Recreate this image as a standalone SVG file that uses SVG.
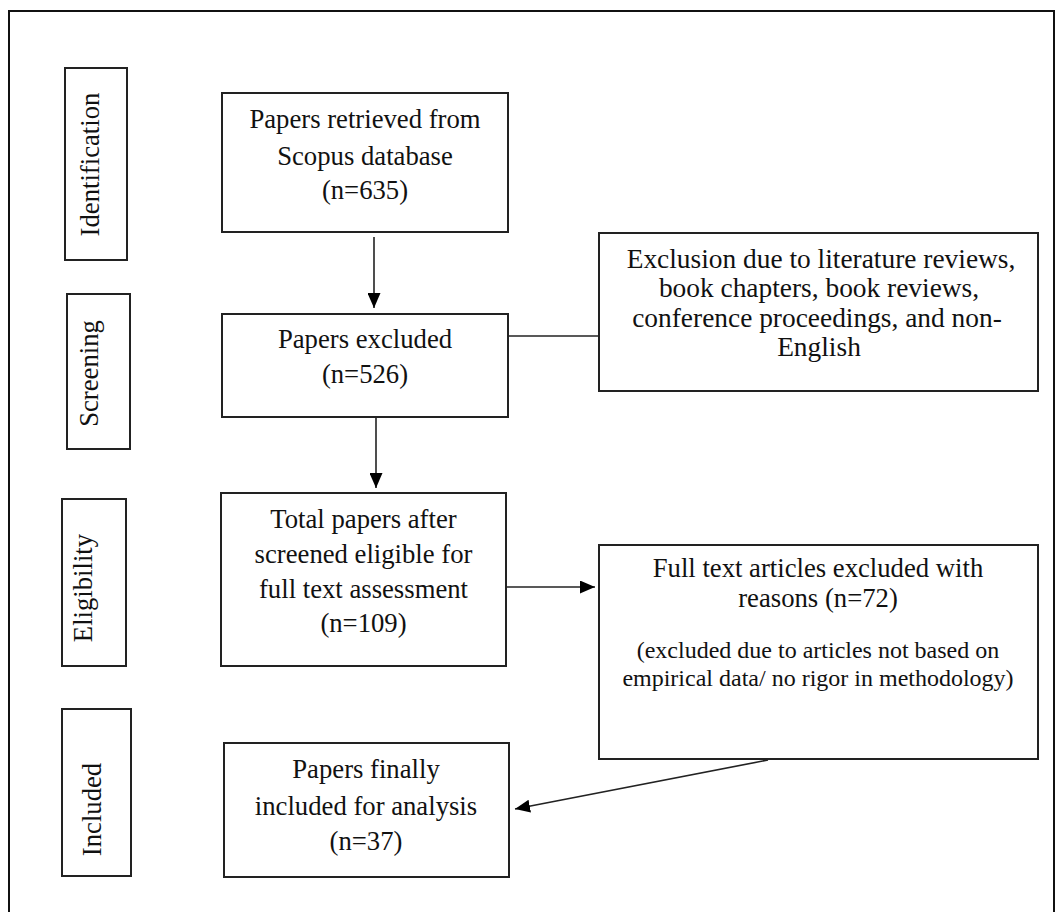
<svg xmlns="http://www.w3.org/2000/svg" width="1061" height="912" viewBox="0 0 1061 912">
<defs>
<marker id="ah" markerUnits="userSpaceOnUse" markerWidth="15" markerHeight="13" refX="15" refY="6.5" orient="auto">
<path d="M0,0 L15,6.5 L0,13 z" fill="#000"/>
</marker>
<style>
.box{fill:#fff;stroke:#222;stroke-width:2}
.t{font-family:"Liberation Serif","Times New Roman",serif;font-size:26.7px;fill:#111;text-anchor:middle}
.s{font-size:24px}
.x{font-size:27.4px}
.c{stroke:#222;stroke-width:1.6;fill:none}
</style>
</defs>
<rect x="0" y="0" width="1061" height="912" fill="#fff"/>
<rect x="9" y="11" width="1045" height="930" fill="none" stroke="#111" stroke-width="2"/>

<g id="stage-identification">
<rect class="box" x="65" y="68" width="62" height="192"/>
<text class="t" transform="translate(99,164.5) rotate(-90)">Identification</text>
</g>
<g id="stage-screening">
<rect class="box" x="67" y="294" width="63" height="155"/>
<text class="t" transform="translate(97.5,373.5) rotate(-90)">Screening</text>
</g>
<g id="stage-eligibility">
<rect class="box" x="62" y="499" width="64" height="167"/>
<text class="t" transform="translate(92,588) rotate(-90)">Eligibility</text>
</g>
<g id="stage-included">
<rect class="box" x="62" y="709" width="69" height="167"/>
<text class="t" transform="translate(101,809.5) rotate(-90)">Included</text>
</g>

<g id="retrieved">
<rect class="box" x="222" y="93" width="286" height="139"/>
<text class="t" x="365" y="128">Papers retrieved from</text>
<text class="t" x="365" y="165">Scopus database</text>
<text class="t" x="365" y="199">(n=635)</text>
</g>
<g id="excluded">
<rect class="box" x="222" y="314" width="286" height="103"/>
<text class="t" x="365" y="348">Papers excluded</text>
<text class="t" x="365" y="383">(n=526)</text>
</g>
<g id="exclusion-reasons">
<rect class="box" x="599" y="233" width="439" height="158"/>
<text class="t x" x="821" y="267.5">Exclusion due to literature reviews,</text>
<text class="t x" x="819" y="297">book chapters, book reviews,</text>
<text class="t x" x="817" y="327">conference proceedings, and non-</text>
<text class="t x" x="819" y="356">English</text>
</g>
<g id="eligible">
<rect class="box" x="221" y="493" width="285" height="173"/>
<text class="t" x="363.5" y="528">Total papers after</text>
<text class="t" x="363.5" y="563">screened eligible for</text>
<text class="t" x="363.5" y="598">full text assessment</text>
<text class="t" x="363.5" y="632">(n=109)</text>
</g>
<g id="fulltext-excluded">
<rect class="box" x="599" y="545" width="439" height="214"/>
<text class="t" x="818" y="577">Full text articles excluded with</text>
<text class="t" x="818" y="607">reasons (n=72)</text>
<text class="t s" x="818" y="658">(excluded due to articles not based on</text>
<text class="t s" x="818" y="686">empirical data/ no rigor in methodology)</text>
</g>
<g id="included">
<rect class="box" x="224" y="743" width="285" height="134"/>
<text class="t" x="366" y="778">Papers finally</text>
<text class="t" x="366" y="815">included for analysis</text>
<text class="t" x="366" y="850">(n=37)</text>
</g>

<g id="connectors">
<line class="c" x1="374" y1="237" x2="374" y2="308" marker-end="url(#ah)"/>
<line class="c" x1="376" y1="417" x2="376" y2="488" marker-end="url(#ah)"/>
<line class="c" x1="508" y1="336" x2="599" y2="336"/>
<line class="c" x1="506" y1="587" x2="595" y2="587" marker-end="url(#ah)"/>
<line class="c" x1="768" y1="760" x2="515" y2="809" marker-end="url(#ah)"/>
</g>
</svg>
